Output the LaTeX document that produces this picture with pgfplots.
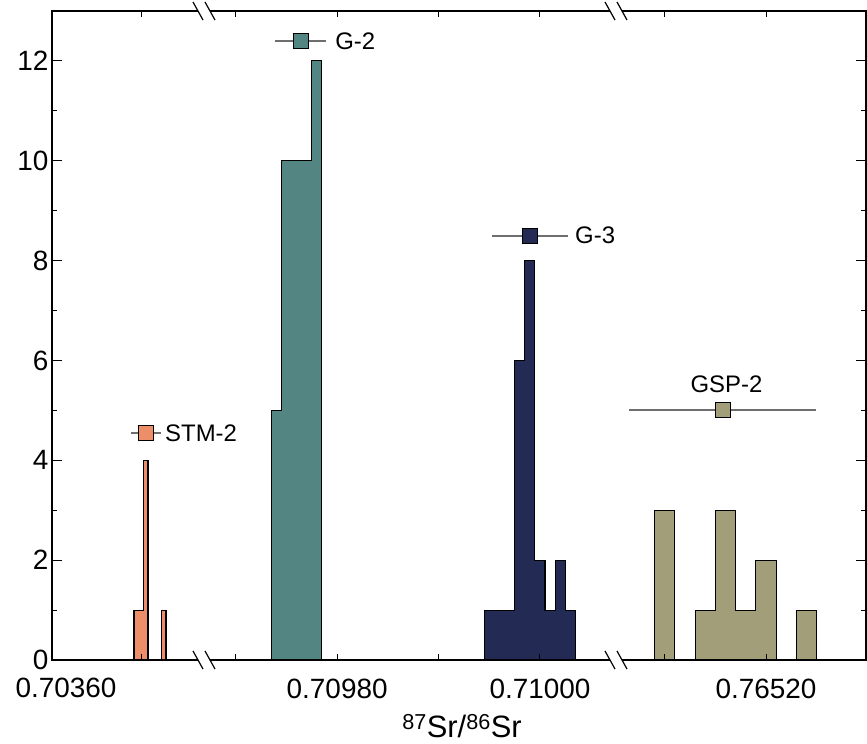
\documentclass[border=0pt]{standalone}
\usepackage{pgfplots}
\pgfplotsset{compat=1.18}
\usepackage{fontspec}
\setmainfont{Liberation Sans}
\definecolor{stm}{RGB}{236,143,104}
\definecolor{gtwo}{RGB}{83,133,131}
\definecolor{gthree}{RGB}{35,42,84}
\definecolor{gsp}{RGB}{163,158,122}
\definecolor{errgray}{RGB}{110,110,110}
\tikzset{lab/.style={font=\fontsize{24}{24}\selectfont, inner sep=0pt},
  tlab/.style={font=\fontsize{28}{28}\selectfont, inner sep=0pt}}
\begin{document}
\begin{tikzpicture}[x=1bp,y=1bp]
\useasboundingbox (-52,-84) rectangle (815,660);
\pgfplotsset{
  seg/.style={scale only axis, height=649bp, ymin=0, ymax=13,
    anchor=south west, axis line style={draw=none}, ytick=\empty,
    tick align=inside, xtick pos=both, major tick length=6bp,
    tick style={black, line width=1bp}, axis on top, clip=false,
    xticklabel style={font=\fontsize{28}{28}\selectfont, inner sep=0pt, anchor=base, yshift=-38bp}},
  hist/.style={const plot mark left, draw=black, line width=1.1bp},
  est/.style={only marks, mark=square*, mark size=7.5bp,
    error bars/x dir=both, error bars/x explicit,
    error bars/error bar style={errgray, line width=2bp},
    error bars/error mark=none}
}
% ---------- segment 1: STM-2
\begin{axis}[seg, width=153bp, at={(0,0)},
  xmin=0.70361214, xmax=0.70376318,
  xtick={0.70370}, xticklabels={}]
\addplot[hist, fill=stm] coordinates {(0.7036931,1) (0.7037023,4) (0.7037069,4)} \closedcycle;
\addplot[hist, fill=stm] coordinates {(0.7037200,1) (0.7037247,1)} \closedcycle;
\addplot[est, mark options={fill=stm, draw=black, line width=0.8bp}] coordinates {(0.7037047,4.55) +- (0.0000148,0)};
\node[lab, anchor=west] at (axis cs:0.7037237,4.55) {STM-2};
\end{axis}
% ---------- segment 2: G-2 and G-3
\begin{axis}[seg, width=411bp, at={(153bp,0)},
  xmin=0.70966969, xmax=0.71007502,
  xtick={0.7097,0.7098,0.7099,0.7100}, xticklabels={,0.70980,,0.71000}]
\addplot[hist, fill=gtwo] coordinates {(0.709735,5) (0.709745,10) (0.709755,10) (0.709765,10) (0.709775,12) (0.709785,12)} \closedcycle;
\addplot[hist, fill=gthree] coordinates {(0.709945,1) (0.709955,1) (0.709965,1) (0.709975,6) (0.709985,8) (0.709995,2) (0.710005,1) (0.710015,2) (0.710025,1) (0.710035,1)} \closedcycle;
\addplot[est, mark options={fill=gtwo, draw=black, line width=0.8bp}] coordinates {(0.709764,12.4) +- (0.0000255,0)};
\addplot[est, mark options={fill=gthree, draw=black, line width=0.8bp}] coordinates {(0.709990,8.5) +- (0.0000372,0)};
\node[lab, anchor=west] at (axis cs:0.709798,12.4) {G-2};
\node[lab, anchor=west] at (axis cs:0.7100346,8.5) {G-3};
\end{axis}
% ---------- segment 3: GSP-2
\begin{axis}[seg, width=250bp, at={(564bp,0)},
  xmin=0.76505192, xmax=0.76529872,
  xtick={0.7651,0.7652}, xticklabels={,0.76520}]
\addplot[hist, fill=gsp] coordinates {(0.76509,3) (0.76511,0) (0.76513,1) (0.76515,3) (0.76517,1) (0.76519,2) (0.76521,0) (0.76523,1) (0.76525,1)} \closedcycle;
\addplot[est, mark options={fill=gsp, draw=black, line width=0.8bp}] coordinates {(0.765157,5.0) +- (0.0000926,0)};
\node[lab, anchor=base, yshift=18bp] at (axis cs:0.765161,5.0) {GSP-2};
\end{axis}
% ---------- frame with y axis
\begin{axis}[scale only axis, width=814bp, height=649bp, at={(0,0)}, anchor=south west,
  xmin=0, xmax=1, ymin=0, ymax=13, xtick=\empty,
  ytick={0,2,...,12}, minor y tick num=1, ytick pos=both, yticklabel pos=left,
  tick align=inside, major tick length=10bp, minor tick length=5bp,
  tick style={black, line width=1bp},
  axis line style={black, line width=1.3bp},
  /pgf/number format/assume math mode=true,
  yticklabel style={font=\fontsize{28}{28}\selectfont}]
\end{axis}
% break marks
\foreach \cx in {152,564} {
  \foreach \cy in {0,649} {
    \fill[white] (\cx-11,\cy+9) -- (\cx+1,\cy+9) -- (\cx+11,\cy-9) -- (\cx-1,\cy-9) -- cycle;
    \draw[line width=1.2bp] (\cx-11,\cy+9) -- (\cx-1,\cy-9);
    \draw[line width=1.2bp] (\cx+1,\cy+9) -- (\cx+11,\cy-9);
  }
}
% first-segment tick label (set off its tick, as in the reference)
\node[tlab, anchor=base] at (14,-38) {0.70360};
\node[anchor=base, inner sep=0pt, font=\fontsize{31}{31}\selectfont] at (410,-78) {\textsuperscript{87}Sr/\textsuperscript{86}Sr};
\end{tikzpicture}
\end{document}
